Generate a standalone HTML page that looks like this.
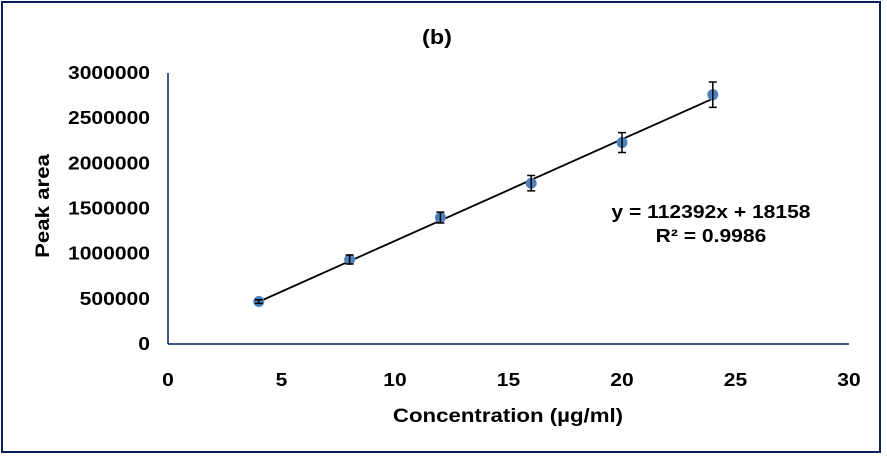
<!DOCTYPE html>
<html><head><meta charset="utf-8"><style>
html,body{margin:0;padding:0;background:#fff}
svg{display:block;font-family:"Liberation Sans",Arial,sans-serif;font-weight:bold}
</style></head><body>
<svg id="chart" width="887" height="456">
<rect x="2" y="2" width="878" height="450" fill="#fff" stroke="#0b1f5c" stroke-width="2"/>
<text class="st" x="437" y="44" font-size="20" text-anchor="middle">(b)</text>
<text class="st" transform="translate(49,206) rotate(-90)" font-size="19" text-anchor="middle">Peak area</text>
<text class="st" x="508" y="422" font-size="19" text-anchor="middle">Concentration (µg/ml)</text>
<text class="st" x="711" y="218" font-size="18" text-anchor="middle">y = 112392x + 18158</text>
<text class="st" x="711" y="242" font-size="18" text-anchor="middle">R² = 0.9986</text>
<g id="plot"></g>
</svg>
<script>
const xVals=[4,8,12,16,20,24];
const yVals=[470000,935000,1400000,1780000,2230000,2760000];
const yErr=[20000,50000,60000,85000,110000,140000];
const xTicks=[0,5,10,15,20,25,30];
const yTicks=[0,500000,1000000,1500000,2000000,2500000,3000000];
const slope=112392, intercept=18158;
const X0=168,X1=849,Y0=344,Y1=73;
const sx=v=>X0+(v-0)/(30-0)*(X1-X0);
const sy=v=>Y0-(v-0)/(3000000-0)*(Y0-Y1);
const NS='http://www.w3.org/2000/svg';
const g=document.getElementById('plot');
function mk(t,a){const e=document.createElementNS(NS,t);for(const k in a)e.setAttribute(k,a[k]);g.appendChild(e);return e;}
let e;
e=mk('line',{x1:X0,y1:Y1,x2:X0,y2:Y0,stroke:'#0b1f5c','stroke-width':1.5});


e=mk('line',{x1:X0,y1:Y0,x2:X1,y2:Y0,stroke:'#0b1f5c','stroke-width':1.5});


xTicks.forEach(v=>{e=mk('text',{x:sx(v),y:386,'font-size':18,'text-anchor':'middle',class:'st'});e.textContent=v;

});
yTicks.forEach(v=>{e=mk('text',{x:150,y:sy(v)+6,'font-size':18,'text-anchor':'end',class:'st'});e.textContent=v;

});
const xa=xVals[0],xb=xVals[xVals.length-1];
e=mk('line',{x1:sx(xa),y1:sy(slope*xa+intercept),x2:sx(xb),y2:sy(slope*xb+intercept),stroke:'#000','stroke-width':1.8});


xVals.forEach((x,i)=>{
 const cx=sx(x),cy=sy(yVals[i]);
 e=mk('circle',{cx:cx,cy:cy,r:5.5,fill:'#4f81bd'});
 
 
 const t=sy(yVals[i]+yErr[i]),b=sy(yVals[i]-yErr[i]);
 e=mk('path',{d:`M${cx},${t}V${b}M${cx-4},${t}H${cx+4}M${cx-4},${b}H${cx+4}`,stroke:'#000','stroke-width':1.5,fill:'none'});
 
 
});
document.querySelectorAll('.st').forEach(t=>{
 const L=t.getComputedTextLength();
 t.setAttribute('textLength',(L*1.17).toFixed(1));
 t.setAttribute('lengthAdjust','spacingAndGlyphs');
});
</script>
</body></html>
